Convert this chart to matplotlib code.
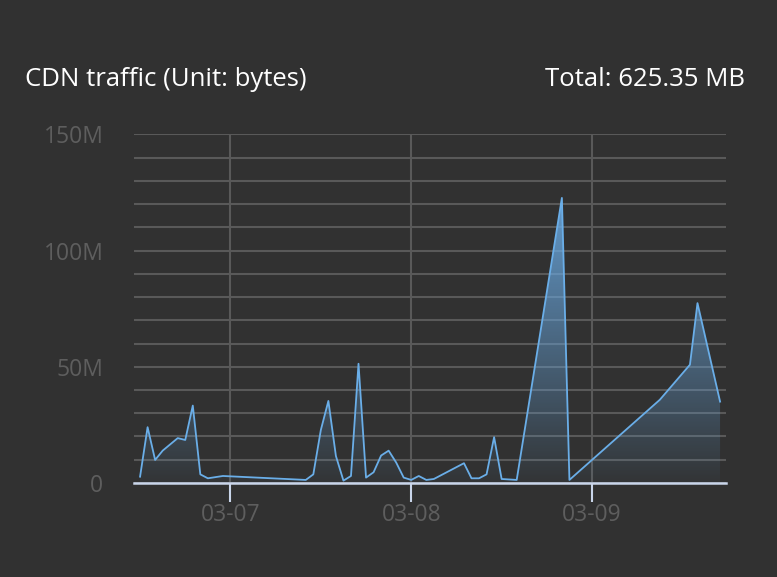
import numpy as np
import pandas as pd
import matplotlib
matplotlib.use("Agg")
import matplotlib.pyplot as plt
import matplotlib.dates as mdates
from matplotlib.ticker import MultipleLocator, FuncFormatter
from matplotlib.colors import LinearSegmentedColormap

# hourly samples (gaps where no traffic was reported), values in M bytes
times = [
    "2024-03-06 12:00", "2024-03-06 13:00", "2024-03-06 14:00", "2024-03-06 15:00",
    "2024-03-06 17:00", "2024-03-06 18:00", "2024-03-06 19:00", "2024-03-06 20:00",
    "2024-03-06 21:00", "2024-03-06 23:00",
    "2024-03-07 10:00", "2024-03-07 11:00", "2024-03-07 12:00", "2024-03-07 13:00",
    "2024-03-07 14:00", "2024-03-07 15:00", "2024-03-07 16:00", "2024-03-07 17:00",
    "2024-03-07 18:00", "2024-03-07 19:00", "2024-03-07 20:00", "2024-03-07 21:00",
    "2024-03-07 22:00", "2024-03-07 23:00",
    "2024-03-08 00:00", "2024-03-08 01:00", "2024-03-08 02:00", "2024-03-08 03:00",
    "2024-03-08 07:00", "2024-03-08 08:00", "2024-03-08 09:00", "2024-03-08 10:00",
    "2024-03-08 11:00", "2024-03-08 12:00", "2024-03-08 14:00", "2024-03-08 20:00",
    "2024-03-08 21:00",
    "2024-03-09 09:00", "2024-03-09 13:00", "2024-03-09 14:00", "2024-03-09 17:00",
]
traffic_m = [
    2.7, 24.0, 9.9, 13.9,
    19.3, 18.5, 33.3, 3.7,
    2.0, 3.0,
    1.3, 3.7, 22.8, 35.3,
    11.6, 1.0, 3.0, 51.3,
    2.3, 4.6, 11.8, 13.9,
    8.8, 2.3,
    1.3, 3.0, 1.3, 1.7,
    8.5, 2.0, 2.0, 3.7,
    19.7, 1.7, 1.3, 122.7,
    1.3,
    35.8, 50.9, 77.4, 35.0,
]
title = "CDN traffic (Unit: bytes)"
total_label = "Total: 625.35 MB"

bg = "#313131"
line_c = "#6aaee8"
grid_c = "#595959"
label_c = "#5e5e5e"
axis_c = "#c9d5ea"

plt.rcParams['font.family'] = ['Open Sans', 'DejaVu Sans']

t = mdates.date2num(pd.to_datetime(times).to_pydatetime())
y = np.array(traffic_m)

fig = plt.figure(figsize=(7.77, 5.77), dpi=100, facecolor=bg)
ax = fig.add_axes([0.1725, 0.163, 0.762, 0.604])
ax.set_facecolor(bg)

pad = 0.8 / 24
ax.set_xlim(t[0] - pad, t[-1] + pad)
ax.set_ylim(0, 150)

# gradient area under the line
poly = ax.fill_between(t, y, 0, color="none", lw=0)
cmap = LinearSegmentedColormap.from_list(
    "g", [(0.42, 0.68, 0.91, 0.03), (0.42, 0.68, 0.91, 0.85)])
grad = np.linspace(0, 1, 256).reshape(-1, 1)
im = ax.imshow(grad, cmap=cmap, aspect="auto", origin="lower",
               extent=[t[0], t[-1], 0, y.max()], zorder=2)
im.set_clip_path(poly.get_paths()[0], transform=ax.transData)

ax.plot(t, y, color=line_c, lw=1.3, zorder=3)

# y axis: labels every 50M, grid every 10M
ax.yaxis.set_major_locator(MultipleLocator(50))
ax.yaxis.set_minor_locator(MultipleLocator(10))
ax.yaxis.set_major_formatter(FuncFormatter(lambda v, p: "0" if v == 0 else "%dM" % v))
ax.grid(True, which="both", axis="y", color=grid_c, lw=1.5)
ax.tick_params(axis="y", which="both", length=0, pad=22, labelsize=16.5, labelcolor=label_c)

# x axis: one tick per day
ax.xaxis.set_major_locator(mdates.DayLocator())
ax.xaxis.set_major_formatter(mdates.DateFormatter("%m-%d"))
ax.grid(True, which="major", axis="x", color=grid_c, lw=1.5)
ax.tick_params(axis="x", length=13.5, width=1.5, color=axis_c, pad=1,
               labelsize=16.5, labelcolor=label_c)
ax.set_axisbelow(True)

for s in ["top", "right", "left"]:
    ax.spines[s].set_visible(False)
ax.spines["bottom"].set_color(axis_c)
ax.spines["bottom"].set_linewidth(1.8)
ax.spines["bottom"].set_zorder(4)

fig.text(25 / 777, 1 - 86 / 577, title, color="white", fontsize=18.5, ha="left", va="baseline")
fig.text(745 / 777, 1 - 86 / 577, total_label, color="white", fontsize=18.5, ha="right", va="baseline")

fig.savefig("out.png", dpi=100, facecolor=bg)
